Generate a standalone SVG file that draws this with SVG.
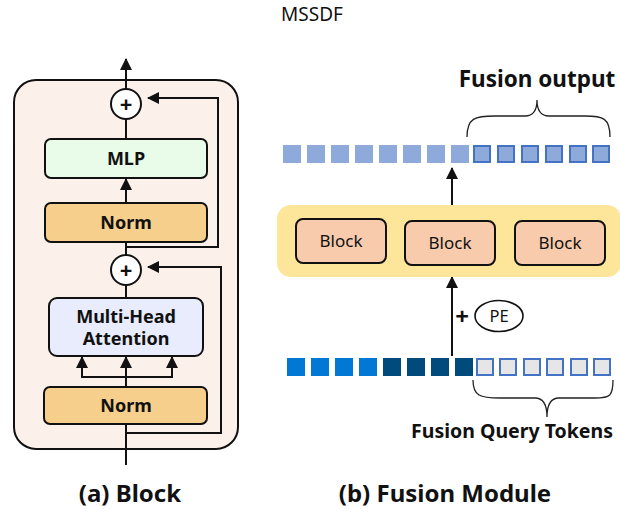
<svg xmlns="http://www.w3.org/2000/svg" width="620" height="512" viewBox="0 0 620 512">
<style>
text{font-family:"Noto Sans","Open Sans","DejaVu Sans",sans-serif;fill:#111}
.b{font-weight:bold}
.box{stroke:#111;stroke-width:2}
.ln{stroke:#111;stroke-width:2;fill:none}
.t1{fill:#8eaadb}
.t2{fill:#8eaadb;stroke:#4472c4;stroke-width:2}
.t3{fill:#0078d4}
.t4{fill:#004a7c}
.t5{fill:#e6e6e6;stroke:#4472c4;stroke-width:2}
.br{stroke:#222;stroke-width:1.3;fill:none}
</style>
<defs>
<marker id="a" viewBox="0 0 12 12" refX="11" refY="6" markerWidth="12" markerHeight="12" markerUnits="userSpaceOnUse" orient="auto"><path d="M0,0 L12,6 L0,12 z" fill="#111"/></marker>
</defs>
<text x="312" y="21" font-size="19" text-anchor="middle" fill="#222">MSSDF</text>

<g id="block-frame"><rect x="14" y="80" width="224" height="369" rx="22" fill="#fcf0ea" stroke="#111" stroke-width="2"/></g>

<g id="connectors">
<line class="ln" x1="126" y1="89" x2="126" y2="59" marker-end="url(#a)"/>
<line class="ln" x1="126" y1="139" x2="126" y2="119"/>
<line class="ln" x1="126" y1="203" x2="126" y2="179" marker-end="url(#a)"/>
<line class="ln" x1="126" y1="242" x2="126" y2="256"/>
<polyline class="ln" points="126,247 218,247 218,98 148,98" marker-end="url(#a)"/>
<line class="ln" x1="126" y1="285" x2="126" y2="298"/>
<polyline class="ln" points="126,433 221,433 221,267 148,267" marker-end="url(#a)"/>
<line class="ln" x1="126" y1="465" x2="126" y2="424"/>
<line class="ln" x1="126" y1="387" x2="126" y2="357" marker-end="url(#a)"/>
<polyline class="ln" points="82,357 82,377 172,377 172,357"/>
<line class="ln" x1="82" y1="377" x2="82" y2="357" marker-end="url(#a)"/>
<line class="ln" x1="172" y1="377" x2="172" y2="357" marker-end="url(#a)"/>
<line class="ln" x1="452" y1="208" x2="452" y2="168" marker-end="url(#a)"/>
<line class="ln" x1="452" y1="356" x2="452" y2="277" marker-end="url(#a)"/>
</g>

<g id="add1"><circle cx="126" cy="104" r="15" fill="#fff" stroke="#111" stroke-width="2"/><text x="126" y="112" font-size="22" class="b" text-anchor="middle">+</text></g>
<g id="mlp"><rect class="box" x="45" y="139" width="162" height="39" rx="6" fill="#e9fbe9"/><text x="126" y="165" font-size="18" class="b" text-anchor="middle">MLP</text></g>
<g id="norm1"><rect class="box" x="45" y="203" width="162" height="39" rx="6" fill="#f5cf8b"/><text x="126" y="229" font-size="18" class="b" text-anchor="middle">Norm</text></g>
<g id="add2"><circle cx="126" cy="270" r="15" fill="#fff" stroke="#111" stroke-width="2"/><text x="126" y="278" font-size="22" class="b" text-anchor="middle">+</text></g>
<g id="mha"><rect class="box" x="49" y="298" width="154" height="58" rx="8" fill="#e8ecfc"/><text x="126" y="323" font-size="18" class="b" text-anchor="middle">Multi-Head</text><text x="126" y="345" font-size="18" class="b" text-anchor="middle">Attention</text></g>
<g id="norm2"><rect class="box" x="44" y="387" width="163" height="37" rx="6" fill="#f5cf8b"/><text x="126" y="412" font-size="18" class="b" text-anchor="middle">Norm</text></g>
<text x="130" y="502" font-size="24" class="b" text-anchor="middle">(a) Block</text>

<g id="fusion-output">
<rect class="t1" x="283" y="145" width="18" height="18"/><rect class="t1" x="307" y="145" width="18" height="18"/><rect class="t1" x="331" y="145" width="18" height="18"/><rect class="t1" x="355" y="145" width="18" height="18"/><rect class="t1" x="379" y="145" width="18" height="18"/><rect class="t1" x="403" y="145" width="18" height="18"/><rect class="t1" x="427" y="145" width="18" height="18"/><rect class="t1" x="451" y="145" width="18" height="18"/>
<rect class="t2" x="474" y="146" width="16" height="16"/><rect class="t2" x="498" y="146" width="16" height="16"/><rect class="t2" x="522" y="146" width="16" height="16"/><rect class="t2" x="546" y="146" width="16" height="16"/><rect class="t2" x="570" y="146" width="16" height="16"/><rect class="t2" x="593" y="146" width="16" height="16"/>
<path class="br" d="M467,137 C467,118 475,116 495,116 L525,116 C533,116 537,110 537,100 C537,110 541,116 549,116 L585,116 C603,116 610,118 610,137"/>
<text x="537" y="87" font-size="22.5" class="b" text-anchor="middle">Fusion output</text>
</g>

<g id="fusion-module">
<rect x="277" y="205" width="344" height="72" rx="14" fill="#fde59a"/>
<g id="block-a"><rect class="box" x="296" y="219" width="90" height="44" rx="7" fill="#f8cbad"/><text x="341" y="247" font-size="17" text-anchor="middle">Block</text></g>
<g id="block-b"><rect class="box" x="405" y="221" width="90" height="44" rx="7" fill="#f8cbad"/><text x="450" y="249" font-size="17" text-anchor="middle">Block</text></g>
<g id="block-c"><rect class="box" x="515" y="221" width="90" height="44" rx="7" fill="#f8cbad"/><text x="560" y="249" font-size="17" text-anchor="middle">Block</text></g>
</g>

<g id="pe"><text x="462" y="325" font-size="24" class="b" text-anchor="middle">+</text><ellipse cx="499" cy="316" rx="24" ry="15.5" fill="#fff" stroke="#111" stroke-width="1.6"/><text x="499" y="322" font-size="16.5" text-anchor="middle">PE</text></g>

<g id="input-tokens">
<rect class="t3" x="287" y="358" width="18" height="18"/><rect class="t3" x="311" y="358" width="18" height="18"/><rect class="t3" x="335" y="358" width="18" height="18"/><rect class="t3" x="359" y="358" width="18" height="18"/>
<rect class="t4" x="383" y="358" width="18" height="18"/><rect class="t4" x="407" y="358" width="18" height="18"/><rect class="t4" x="431" y="358" width="18" height="18"/><rect class="t4" x="455" y="358" width="18" height="18"/>
<rect class="t5" x="477" y="359" width="16" height="16"/><rect class="t5" x="500" y="359" width="16" height="16"/><rect class="t5" x="524" y="359" width="16" height="16"/><rect class="t5" x="547" y="359" width="16" height="16"/><rect class="t5" x="571" y="359" width="16" height="16"/><rect class="t5" x="594" y="359" width="16" height="16"/>
<path class="br" d="M473,380 C473,396 480,398 500,398 L535,398 C543,398 547,404 547,417 C547,404 551,398 559,398 L595,398 C610,398 613,396 613,380"/>
<text x="512" y="438" font-size="19.5" class="b" text-anchor="middle">Fusion Query Tokens</text>
</g>
<text x="445" y="502" font-size="24" class="b" text-anchor="middle">(b) Fusion Module</text>
</svg>
